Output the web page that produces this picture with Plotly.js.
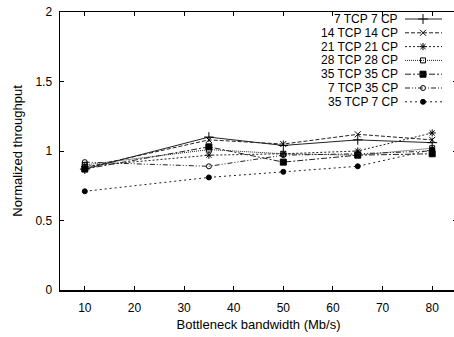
<!DOCTYPE html>
<html>
<head>
<meta charset="utf-8">
<script src="https://cdn.plot.ly/plotly-3.0.1.min.js"></script>
<style>html,body{margin:0;padding:0;overflow:hidden;background:#fff;}#chart{width:458px;height:337px;}</style>
</head>
<body>
<div id="chart"></div>
<script>
// ---- data ----
var bandwidth = [10, 35, 50, 65, 80];
var seriesNames = ["7 TCP 7 CP", "14 TCP 14 CP", "21 TCP 21 CP", "28 TCP 28 CP", "35 TCP 35 CP", "7 TCP 35 CP", "35 TCP 7 CP"];
var tcp7cp7   = [0.87, 1.10, 1.04, 1.08, 1.06];
var tcp14cp14 = [0.88, 1.08, 1.05, 1.12, 1.08];
var tcp21cp21 = [0.89, 0.97, 0.98, 1.00, 1.13];
var tcp28cp28 = [0.90, 1.01, 0.98, 0.97, 1.02];
var tcp35cp35 = [0.87, 1.03, 0.92, 0.97, 0.98];
var tcp7cp35  = [0.92, 0.89, 0.97, 0.98, 1.00];
var tcp35cp7  = [0.71, 0.81, 0.85, 0.89, 1.01];
var xTickVals = [10, 20, 30, 40, 50, 60, 70, 80];
var yTickVals = [0, 0.5, 1, 1.5, 2];
var yTickText = ["0", "0.5", "1", "1.5", "2"];

var values = [tcp7cp7, tcp14cp14, tcp21cp21, tcp28cp28, tcp35cp35, tcp7cp35, tcp35cp7];
var styles = [
  {dash: "solid", symbol: "cross-thin-open", size: 7},
  {dash: "4px,2px", symbol: "x-thin-open", size: 6},
  {dash: "2px,2px", symbol: "asterisk-open", size: 6},
  {dash: "1px,1px", symbol: "square-open", size: 5},
  {dash: "6px,2px,2px,2px", symbol: "square", size: 6},
  {dash: "5px,2px,1px,2px,1px,2px", symbol: "circle-open", size: 5},
  {dash: "2px,3px", symbol: "circle", size: 5}
];

var fontFam = "Liberation Sans, Arial, sans-serif";
var traces = [];
var shapes = [];
var annotations = [];
// plot area pixel geometry for legend placement
var L = 60, R = 457, T = 12, B = 290;
function fx(px){ return (px - L) / (R - L); }
function fy(py){ return (B - py) / (B - T); }

for (var i = 0; i < values.length; i++) {
  var st = styles[i];
  traces.push({
    x: bandwidth, y: values[i], type: "scatter", mode: "lines+markers",
    name: seriesNames[i], showlegend: false, cliponaxis: false,
    line: {color: "#222", width: 1, dash: st.dash},
    marker: {symbol: st.symbol, size: st.size, color: "#000", line: {color: "#000", width: 1}}
  });
  var rowY = 19 + 13.8 * i;
  annotations.push({
    xref: "paper", yref: "paper", x: fx(399), y: fy(rowY),
    xanchor: "right", yanchor: "middle", showarrow: false, borderpad: 0,
    text: seriesNames[i], font: {family: fontFam, size: 12, color: "#000"}
  });
  shapes.push({
    type: "line", xref: "paper", yref: "paper",
    x0: fx(405), x1: fx(442), y0: fy(rowY), y1: fy(rowY),
    line: {color: "#222", width: 1, dash: st.dash}
  });
  traces.push({
    x: [fx(423)], y: [fy(rowY)], xaxis: "x2", yaxis: "y2",
    type: "scatter", mode: "markers", showlegend: false, hoverinfo: "skip",
    marker: {symbol: st.symbol, size: st.size, color: "#000", line: {color: "#000", width: 1}}
  });
}

var layout = {
  width: 458, height: 337,
  margin: {l: L, r: 458 - R, t: T, b: 337 - B},
  paper_bgcolor: "#fff", plot_bgcolor: "#fff",
  font: {family: fontFam, size: 12, color: "#000"},
  showlegend: false,
  xaxis: {
    range: [5, 85], tickvals: xTickVals, ticks: "inside", ticklen: 4, tickwidth: 1, tickcolor: "#000",
    showline: true, linecolor: "#000", linewidth: 1.5, mirror: "ticks", showgrid: false, zeroline: false,
    tickfont: {family: fontFam, size: 12}, ticklabelstandoff: 6,
    title: {text: "Bottleneck bandwidth (Mb/s)", font: {family: fontFam, size: 13}, standoff: 6}
  },
  yaxis: {
    range: [0, 2], tickvals: yTickVals, ticktext: yTickText, ticks: "inside", ticklen: 4, tickwidth: 1, tickcolor: "#000",
    showline: true, linecolor: "#000", linewidth: 1.5, mirror: "ticks", showgrid: false, zeroline: false,
    tickfont: {family: fontFam, size: 12}, ticklabelstandoff: 4,
    title: {text: "Normalized throughput", font: {family: fontFam, size: 13}, standoff: 10}
  },
  xaxis2: {overlaying: "x", range: [0, 1], visible: false, anchor: "y2"},
  yaxis2: {overlaying: "y", range: [0, 1], visible: false, anchor: "x2"},
  shapes: shapes,
  annotations: annotations
};

Plotly.newPlot("chart", traces, layout, {staticPlot: true, displayModeBar: false});
</script>
</body>
</html>
